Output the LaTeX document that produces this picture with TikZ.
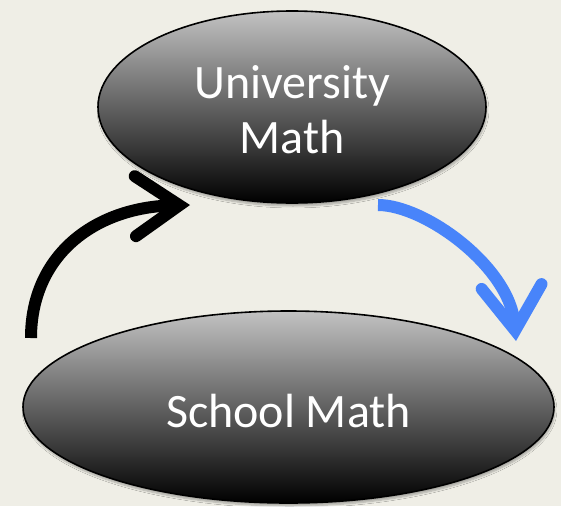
\documentclass[tikz,border=0pt]{standalone}
\usepackage{fontspec}
\setmainfont{Carlito}
\usetikzlibrary{arrows.meta,shapes.geometric,shadows.blur}
\definecolor{bg}{RGB}{239,238,230}
\definecolor{arrowblue}{RGB}{72,132,250}
\definecolor{topgray}{RGB}{194,194,194}
\begin{document}
\begin{tikzpicture}[x=1pt,y=-1pt,
  bubble/.style={ellipse, draw=black, line width=1.6pt, top color=topgray, bottom color=black,
    text=white, font=\fontsize{48}{55}\selectfont, align=center, inner sep=0pt,
    blur shadow={shadow xshift=1pt, shadow yshift=-3pt, shadow blur steps=6, shadow opacity=30}},
  flow/.style={line width=12pt, line cap=butt,
    -{Straight Barb[length=44pt,width=60pt,line width=12pt,line cap=round,line join=miter]}}
]
\fill[bg] (0,0) rectangle (561,506);
\useasboundingbox (0,0) rectangle (561,506);
\node[bubble, minimum width=388pt, minimum height=192pt, text height=92pt, text depth=0pt] (uni) at (292,107)
  {University\\Math};
\node[bubble, minimum width=531pt, minimum height=192pt, text height=41.4pt, text depth=0pt] (school) at (288.5,407)
  {School Math};
\coordinate (bstart) at (31,338);
\coordinate (bend) at (190,205);
\coordinate (ustart) at (378,205);
\coordinate (uend) at (516,341);
\draw[flow, black] (bstart) .. controls (31,255) and (95,207) .. (bend);
\draw[flow, arrowblue] (ustart) .. controls (425,205) and (510,267) .. (uend);
\end{tikzpicture}
\end{document}
